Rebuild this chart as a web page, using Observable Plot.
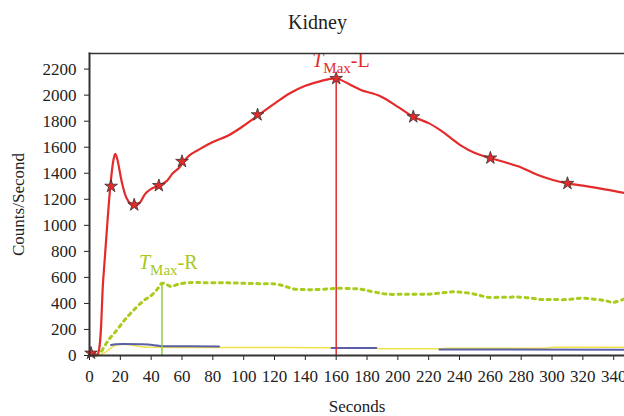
<!DOCTYPE html>
<html><head><meta charset="utf-8">
<script src="https://cdn.jsdelivr.net/npm/d3@7"></script>
<script src="https://cdn.jsdelivr.net/npm/@observablehq/plot@0.6"></script>
<style>
body{margin:0;background:#fff;}
#title{height:40px;box-sizing:border-box;padding-top:12px;padding-left:11px;width:624px;text-align:center;font-size:20px;line-height:20px;font-family:"Liberation Serif","Times New Roman",Times,"DejaVu Serif",serif;color:#222;}
</style></head><body>
<div id="title">Kidney</div>
<div id="chart"></div>
<script>
// Left kidney (red)
const redT = [0,3,5,9,13.5,15.5,16.7,18,21,24,27,29.5,33,36,40,45,50,54,58,61,65,70,80,90,100,110,120,130,140,150,160,170,176,189,200,210,220,228,235,241,250,260,270,280,290,300,310,320,327,340,347];
const redV = [25,15,5,600,1300,1500,1550,1510,1330,1210,1160,1150,1180,1240,1280,1305,1340,1400,1440,1490,1540,1575,1640,1690,1765,1850,1935,2015,2072,2108,2128,2075,2040,1990,1910,1834,1785,1727,1665,1612,1555,1517,1483,1445,1390,1350,1322,1305,1292,1265,1248];
const starT = [1,14,29,45,60,109,160,210,260,310];
const starV = [18,1300,1157,1305,1491,1849,2128,1834,1517,1322];
// Right kidney (green, dotted)
const greenT = [4,7,10,13,16,20,24,30,35,40,44,47,50,53,57,63,70,80,90,100,110,120,126,132,140,146,155,161,170,176,180,186,193,205,219,228,236,245,252,258,270,280,287,293,300,310,318,326,334,340,347];
const greenV = [0,20,77,130,170,230,290,365,420,460,510,555,545,530,545,558,560,558,558,555,552,550,535,512,506,506,512,516,514,510,499,485,471,471,471,480,489,481,465,448,448,448,440,430,430,430,440,435,422,409,435];
// Background (yellow) and blue curves
const yellowT = [4,8,12,16,20,25,30,35,40,60,100,150,185,190,228,232,295,300,347];
const yellowV = [0,10,40,75,85,84,75,66,63,62,62,60,58,51,51,55,55,64,64];
const blueT = [14,17,22,34,38,45,48,84,120,157,186,200,227,347];
const blueV = [80,86,88,86,84,74,71,70,NaN,57,57,NaN,47,44];
// TMax markers
const tmaxLabels = ["TMax-L","TMax-R"];
const tmaxT = [160,47];
const tmaxV = [2128,555];
const xTicks = d3.range(0,341,20);
const yTicks = d3.range(0,2201,200);

const serif = '"Liberation Serif","Times New Roman",Times,"DejaVu Serif",serif';
const red = "#e32b2b", green = "#a8cb1c", greenRule = "#8fcb43";
const toRows = (T,V) => T.map((t,i)=>({t, v:V[i]}));
const redRows = toRows(redT, redV), starRows = toRows(starT, starV);
const greenRows = toRows(greenT, greenV), yellowRows = toRows(yellowT, yellowV), blueRows = toRows(blueT, blueV);
const tmax = tmaxLabels.map((s,i)=>({s, t:tmaxT[i], v:tmaxV[i]}));

const chart = Plot.plot({
  width:624, height:376, marginLeft:89, marginRight:0, marginTop:13, marginBottom:61,
  style:{fontFamily:serif, fontSize:"17px", color:"#222", background:"#fff"},
  x:{domain:[0,347]},
  y:{domain:[0,2320]},
  marks:[
    Plot.axisX({ticks:xTicks, tickFormat:d=>String(d), tickSize:5, tickPadding:9, label:"Seconds", labelAnchor:"center", labelOffset:56, labelArrow:"none", fontSize:17}),
    Plot.axisY({ticks:yTicks, tickFormat:d=>String(d), tickSize:5, tickPadding:8, label:"Counts/Second", labelAnchor:"center", labelOffset:78, labelArrow:"none", fontSize:17}),
    Plot.line(yellowRows, {x:"t", y:"v", stroke:"#f1e14a", strokeWidth:1.5, curve:"monotone-x"}),
    Plot.line(blueRows, {x:"t", y:"v", stroke:"#5b5ea8", strokeWidth:2, curve:"monotone-x"}),
    Plot.ruleX([tmax[1]], {x:"t", y1:0, y2:"v", stroke:greenRule, strokeWidth:1.5}),
    Plot.ruleX([tmax[0]], {x:"t", y1:0, y2:"v", stroke:red, strokeWidth:1.5}),
    Plot.line(greenRows, {x:"t", y:"v", stroke:green, strokeWidth:3, strokeDasharray:"3,4.5", curve:"catmull-rom"}),
    Plot.line(redRows, {x:"t", y:"v", stroke:red, strokeWidth:2.2, curve:"catmull-rom"}),
    Plot.dot(starRows, {x:"t", y:"v", symbol:"star", r:4, fill:red, stroke:"#333", strokeWidth:0.8}),
    Plot.text([tmax[0]], {x:"t", y:"v", text:"s", fill:red, textAnchor:"start", lineAnchor:"bottom", dx:-24, dy:-11, fontSize:20}),
    Plot.text([tmax[1]], {x:"t", y:"v", text:"s", fill:"#a6c81f", textAnchor:"start", lineAnchor:"bottom", dx:-23, dy:-14, fontSize:20}),
    Plot.frame({anchor:"top", stroke:"#333", strokeWidth:1.5}),
    Plot.frame({anchor:"left", stroke:"#333", strokeWidth:2}),
    Plot.frame({anchor:"bottom", stroke:"#333", strokeWidth:2})
  ]
});
chart.querySelectorAll("text").forEach(el => {
  const s = el.textContent;
  if (s === "TMax-L" || s === "TMax-R") {
    el.textContent = "";
    const ns = "http://www.w3.org/2000/svg";
    const a = document.createElementNS(ns,"tspan"); a.setAttribute("font-style","italic"); a.textContent = "T";
    const b = document.createElementNS(ns,"tspan"); b.setAttribute("font-size","15"); b.setAttribute("dy","6"); b.textContent = "Max";
    const c = document.createElementNS(ns,"tspan"); c.setAttribute("dy","-6"); c.textContent = s.slice(4);
    el.append(a,b,c);
  }
});
document.getElementById("chart").append(chart);
</script>
</body></html>
